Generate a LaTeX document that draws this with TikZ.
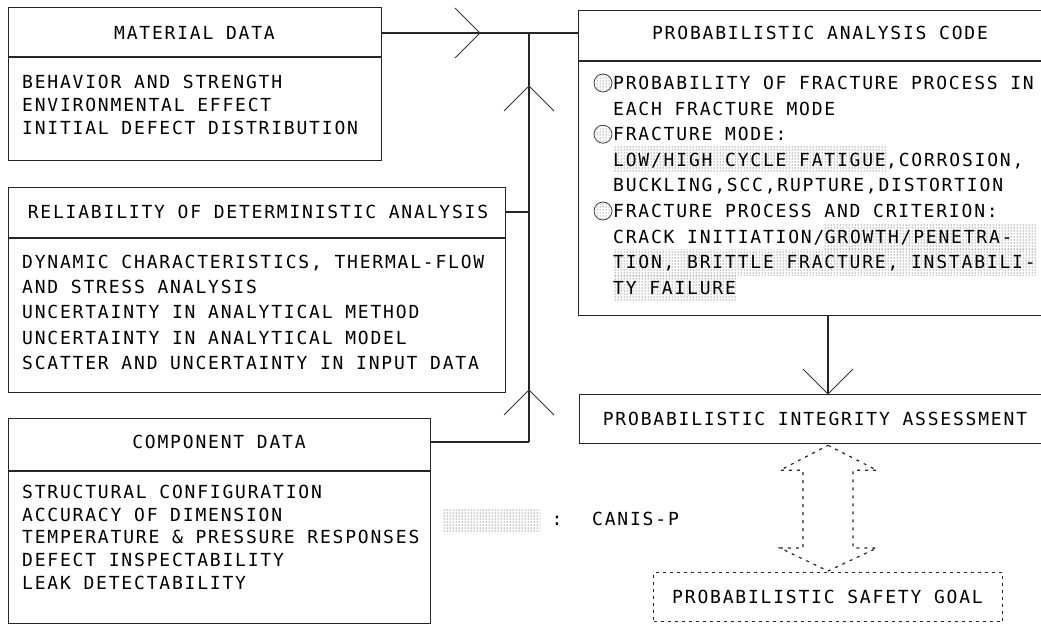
\documentclass[tikz,border=0pt]{standalone}
\usepackage{fontspec}
\usetikzlibrary{patterns,backgrounds,calc}
\newfontfamily\plotfont[LetterSpace=10]{DejaVu Sans Mono}

\tikzset{
  chev/.pic={\draw[chevron] (-25,-25) -- (0,0) -- (-25,25);}
}

\begin{document}
\begin{tikzpicture}[x=1pt,y=-1pt,
  every node/.style={font=\plotfont\fontsize{18}{22}\selectfont, text=black},
  box/.style={draw=black!85, line width=1.3pt, inner sep=0pt, anchor=north west},
  rule/.style={draw=black!85, line width=1.1pt},
  txt/.style={inner sep=0pt, text height=13pt, text depth=0pt, anchor=west},
  ttl/.style={inner sep=0pt, text height=13pt, text depth=0pt},
  link/.style={draw=black!85, line width=1.1pt},
  chevron/.style={draw=black!80, line width=0.9pt},
  stipple/.style={pattern=dots, pattern color=black!90},
  bulletdot/.style={circle, draw=black!75, line width=0.8pt, minimum size=18pt,
                    inner sep=0pt, pattern=dots, pattern color=black!80},
  dashedge/.style={draw=black!85, line width=1.2pt, dash pattern=on 3pt off 5pt},
  dotbox/.style={draw=black!85, line width=1.2pt, dash pattern=on 3pt off 4pt,
                 inner sep=0pt, anchor=north west}
]
\useasboundingbox (0,0) rectangle (1041,624);

% ---------- input boxes ----------
\node[box, minimum width=373pt, minimum height=153pt] (mat) at (8,7) {};
\draw[rule] ($(mat.north west)+(0,50)$) -- ($(mat.north east)+(0,50)$);
\node[ttl] (matT) at (194.5,33) {MATERIAL DATA};
\foreach \t [count=\i] in {BEHAVIOR AND STRENGTH, ENVIRONMENTAL EFFECT,
    INITIAL DEFECT DISTRIBUTION}
  \node[txt] (matB\i) at (22,{82+23*(\i-1)}) {\t};

\node[box, minimum width=497pt, minimum height=205pt] (rel) at (8,187) {};
\draw[rule] ($(rel.north west)+(0,51)$) -- ($(rel.north east)+(0,51)$);
\node[ttl] (relT) at (258,212) {RELIABILITY OF DETERMINISTIC ANALYSIS};
\foreach \t [count=\i] in {{DYNAMIC CHARACTERISTICS, THERMAL-FLOW},
    AND STRESS ANALYSIS, UNCERTAINTY IN ANALYTICAL METHOD,
    UNCERTAINTY IN ANALYTICAL MODEL, SCATTER AND UNCERTAINTY IN INPUT DATA}
  \node[txt] (relB\i) at (22,{262+25.2*(\i-1)}) {\t};

\node[box, minimum width=422pt, minimum height=205pt] (com) at (8,418) {};
\draw[rule] ($(com.north west)+(0,53)$) -- ($(com.north east)+(0,53)$);
\node[ttl] (comT) at (219,442) {COMPONENT DATA};
\foreach \t [count=\i] in {STRUCTURAL CONFIGURATION, ACCURACY OF DIMENSION,
    TEMPERATURE \& PRESSURE RESPONSES, DEFECT INSPECTABILITY, LEAK DETECTABILITY}
  \node[txt] (comB\i) at (22,{492+22.7*(\i-1)}) {\t};

% ---------- analysis code ----------
\node[box, minimum width=467pt, minimum height=305pt] (pac) at (578,10) {};
\draw[rule] ($(pac.north west)+(0,51)$) -- ($(pac.north east)+(0,51)$);
\node[ttl] (pacT) at (820,33) {PROBABILISTIC ANALYSIS CODE};

\node[bulletdot] (b1) at (603,83) {};
\node[txt] (pac1) at (613,83) {PROBABILITY OF FRACTURE PROCESS IN};
\node[txt] (pac2) at (613,108.6) {EACH FRACTURE MODE};
\node[bulletdot] (b2) at (603,134.2) {};
\node[txt] (pac3) at (613,134.2) {FRACTURE MODE:};
\node[txt] (pac4a) at (613,159.8) {LOW/HIGH CYCLE FATIGUE};
\node[txt] (pac4b) at (pac4a.east) {,CORROSION,};
\node[txt] (pac5) at (613,185.4) {BUCKLING,SCC,RUPTURE,DISTORTION};
\node[bulletdot] (b3) at (603,211) {};
\node[txt] (pac6) at (613,211) {FRACTURE PROCESS AND CRITERION:};
\node[txt] (pac7a) at (613,236.6) {CRACK INITIATION/};
\node[txt] (pac7b) at (pac7a.east) {GROWTH/PENETRA-};
\node[txt] (pac8) at (613,262.2) {TION, BRITTLE FRACTURE, INSTABILI-};
\node[txt] (pac9) at (613,287.8) {TY FAILURE};

\begin{scope}[on background layer]
  \fill[stipple] ($(pac4a.north west)+(0,-6.3)$) rectangle ($(pac4a.south east)+(0,6.3)$);
  \fill[stipple] ($(pac7b.north west)+(0,-6.3)$) rectangle ($(pac7b.south -| pac8.east)+(0,6.3)$);
  \fill[stipple] ($(pac8.north west)+(0,-6.3)$) rectangle ($(pac8.south east)+(0,6.3)$);
  \fill[stipple] ($(pac9.north west)+(0,-6.3)$) rectangle ($(pac9.south east)+(0,6.3)$);
\end{scope}

% ---------- assessment and goal ----------
\node[box, minimum width=466pt, minimum height=49pt] (pia) at (579,394) {};
\node[ttl] (piaT) at (815,419) {PROBABILISTIC INTEGRITY ASSESSMENT};

\node[dotbox, minimum width=349pt, minimum height=49pt] (psg) at (653,572) {};
\node[ttl] (psgT) at (827.5,597) {PROBABILISTIC SAFETY GOAL};

% ---------- legend ----------
\node[inner sep=0pt, minimum width=98pt, minimum height=24pt, stipple] (leg) at (491,520) {};
\node[ttl] (legC) at (557,519) {:};
\node[txt] (legT) at (592,519) {CANIS-P};

% ---------- connectors ----------
\coordinate (jtop) at (529,33);
\coordinate (dn) at (828,0);

\draw[link] (matT -| mat.east) -- (matT -| pac.west);
\draw[link] (jtop) -- (comT -| jtop);
\draw[link] (relT -| rel.east) -- (relT -| jtop);
\draw[link] (comT -| com.east) -- (comT -| jtop);
\draw[link] (pac.south -| dn) -- (pia.north -| dn);

\pic at (480,33) {chev};
\pic[rotate=90] at (529,86) {chev};
\pic[rotate=90] at (529,390) {chev};
\pic[rotate=-90] at (pia.north -| dn) {chev};

% hollow double arrow between assessment and goal
\coordinate (ut) at ($(pia.south -| dn)+(0,1)$);
\coordinate (ub) at ($(psg.north -| dn)+(0,-1)$);
\draw[dashedge] (ut) -- ($(ut)+(49,25)$) -- ($(ut)+(25,25)$)
  -- ($(ub)+(25,-23)$) -- ($(ub)+(49,-23)$) -- (ub)
  -- ($(ub)+(-48,-23)$) -- ($(ub)+(-25,-23)$)
  -- ($(ut)+(-25,25)$) -- ($(ut)+(-48,25)$) -- cycle;
\end{tikzpicture}
\end{document}
